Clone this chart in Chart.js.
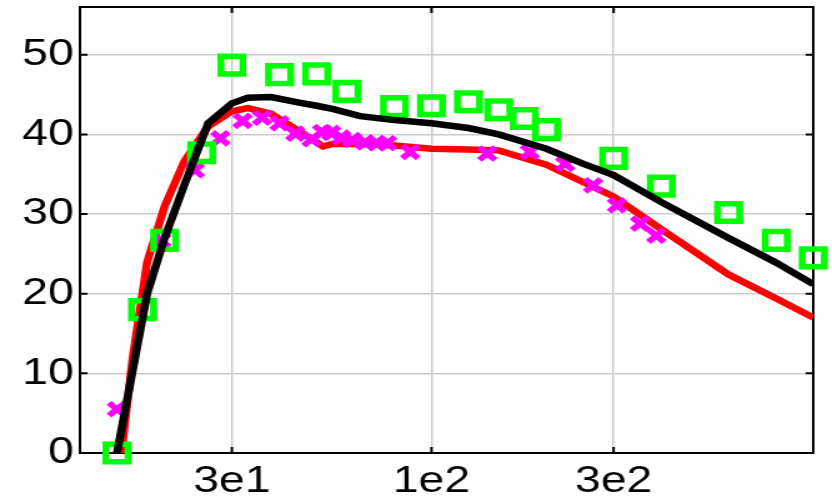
<!DOCTYPE html>
<html>
<head>
<meta charset="utf-8">
<script src="https://cdn.jsdelivr.net/npm/chart.js@4/dist/chart.umd.min.js"></script>
<style>
  html, body { margin: 0; padding: 0; background: #fff; overflow: hidden; }
  /* the figure is horizontally stretched, so draw narrow and scale it out */
  #wrap { width: 666px; height: 503px; transform: scaleX(1.2492); transform-origin: 0 0; }
</style>
</head>
<body>
<div id="wrap"><canvas id="chart"></canvas></div>
<script>
const xTickValues = [30, 100, 300];
const xTickLabels = ['3e1', '1e2', '3e2'];
const yTickValues = [0, 10, 20, 30, 40, 50];

const greenX = [15, 17.5, 20, 25, 30, 40, 50, 60, 80, 100, 125, 150, 175, 200, 300, 400, 600, 800, 1000];
const greenY = [0, 18.0, 26.7, 37.7, 48.7, 47.5, 47.6, 45.4, 43.5, 43.6, 44.1, 43.1, 42.0, 40.6, 37.0, 33.5, 30.2, 26.7, 24.5];

const magX = [15, 19.6, 24, 28, 32, 36, 40, 44, 48.5, 51.7, 54.6, 58, 62, 67, 72, 76.5, 88, 140, 181, 224, 265, 306, 352, 388];
const magY = [5.5, 26.7, 35.5, 39.5, 41.7, 42.1, 41.4, 40.1, 39.4, 40.3, 40.2, 39.6, 39.3, 39.0, 38.9, 38.9, 37.8, 37.6, 37.8, 36.3, 33.6, 31.1, 28.8, 27.3];

const redX = [15.4, 16.5, 18, 20, 22.5, 26, 30, 33, 38, 45, 52, 55, 65, 80, 100, 125, 150, 200, 250, 300, 400, 600, 800, 1000];
const redY = [0, 12, 24, 31, 36.6, 41.0, 42.9, 43.3, 42.6, 40.4, 38.5, 38.8, 38.8, 38.6, 38.2, 38.1, 38.0, 36.2, 34.0, 32.2, 28.1, 22.4, 19.4, 17.0];

const blackX = [15, 16.5, 18, 20, 22.5, 26, 30, 33, 38, 45, 50, 55, 65, 80, 100, 125, 150, 200, 250, 300, 400, 600, 800, 1000];
const blackY = [0, 10.4, 20, 27, 33.6, 41.4, 43.9, 44.6, 44.7, 44.0, 43.6, 43.2, 42.3, 41.8, 41.4, 40.8, 40.0, 38.2, 36.3, 34.9, 31.5, 27.0, 23.9, 21.2];

function pts(xs, ys) {
    return xs.map((x, i) => ({ x: x, y: ys[i] }));
}

// black box round the plot with short inward ticks
const frame = {
    id: 'frame',
    beforeDatasetsDraw(chart) {
        const { ctx, chartArea: a, scales } = chart;
        ctx.save();
        ctx.strokeStyle = '#000';
        ctx.lineWidth = 2;
        ctx.strokeRect(a.left, a.top, a.right - a.left, a.bottom - a.top);
        ctx.beginPath();
        xTickValues.forEach(v => {
            const px = scales.x.getPixelForValue(v);
            ctx.moveTo(px, a.bottom); ctx.lineTo(px, a.bottom - 6);
            ctx.moveTo(px, a.top); ctx.lineTo(px, a.top + 6);
        });
        yTickValues.forEach(v => {
            const py = scales.y.getPixelForValue(v);
            ctx.moveTo(a.left, py); ctx.lineTo(a.left + 6, py);
            ctx.moveTo(a.right, py); ctx.lineTo(a.right - 6, py);
        });
        ctx.stroke();
        ctx.restore();
    }
};

const tickFont = { family: '"Liberation Sans", Arial, sans-serif', size: 37 };

new Chart(document.getElementById('chart'), {
    type: 'scatter',
    data: {
        datasets: [
            {
                data: pts(blackX, blackY), showLine: true, borderColor: '#000000',
                borderWidth: 6.5, pointRadius: 0, tension: 0, order: 0
            },
            {
                data: pts(greenX, greenY), pointStyle: 'rect', pointRadius: 12.5,
                borderColor: '#00ff00', backgroundColor: 'rgba(0,0,0,0)', borderWidth: 5.5,
                clip: false, order: 1
            },
            {
                data: pts(magX, magY), pointStyle: 'crossRot', pointRadius: 9,
                borderColor: '#ff00ff', backgroundColor: '#ff00ff', borderWidth: 5.5, order: 2
            },
            {
                data: pts(redX, redY), showLine: true, borderColor: '#ff0000',
                borderWidth: 6.5, pointRadius: 0, tension: 0, order: 3
            }
        ]
    },
    options: {
        responsive: true,
        maintainAspectRatio: false,
        animation: false,
        layout: { autoPadding: false, padding: { top: 7, right: 15, left: 0, bottom: 0 } },
        plugins: { legend: { display: false }, tooltip: { enabled: false } },
        scales: {
            x: {
                type: 'logarithmic', min: 12, max: 1000,
                afterBuildTicks: s => { s.ticks = xTickValues.map(v => ({ value: v })); },
                afterFit: s => { s.height = 50; s.paddingLeft = 0; s.paddingRight = 0; },
                ticks: {
                    color: '#000', font: tickFont, padding: 7, maxRotation: 0, autoSkip: false,
                    callback: v => xTickLabels[xTickValues.indexOf(v)]
                },
                grid: { color: '#cccccc', lineWidth: 1.5, drawTicks: false },
                border: { display: false }
            },
            y: {
                min: 0, max: 56,
                afterBuildTicks: s => { s.ticks = yTickValues.map(v => ({ value: v })); },
                afterFit: s => { s.width = 64; s.paddingTop = 0; s.paddingBottom = 0; },
                ticks: { color: '#000', font: tickFont, padding: 5 },
                grid: { color: '#cccccc', lineWidth: 1.5, drawTicks: false },
                border: { display: false }
            }
        }
    },
    plugins: [frame]
});
</script>
</body>
</html>
